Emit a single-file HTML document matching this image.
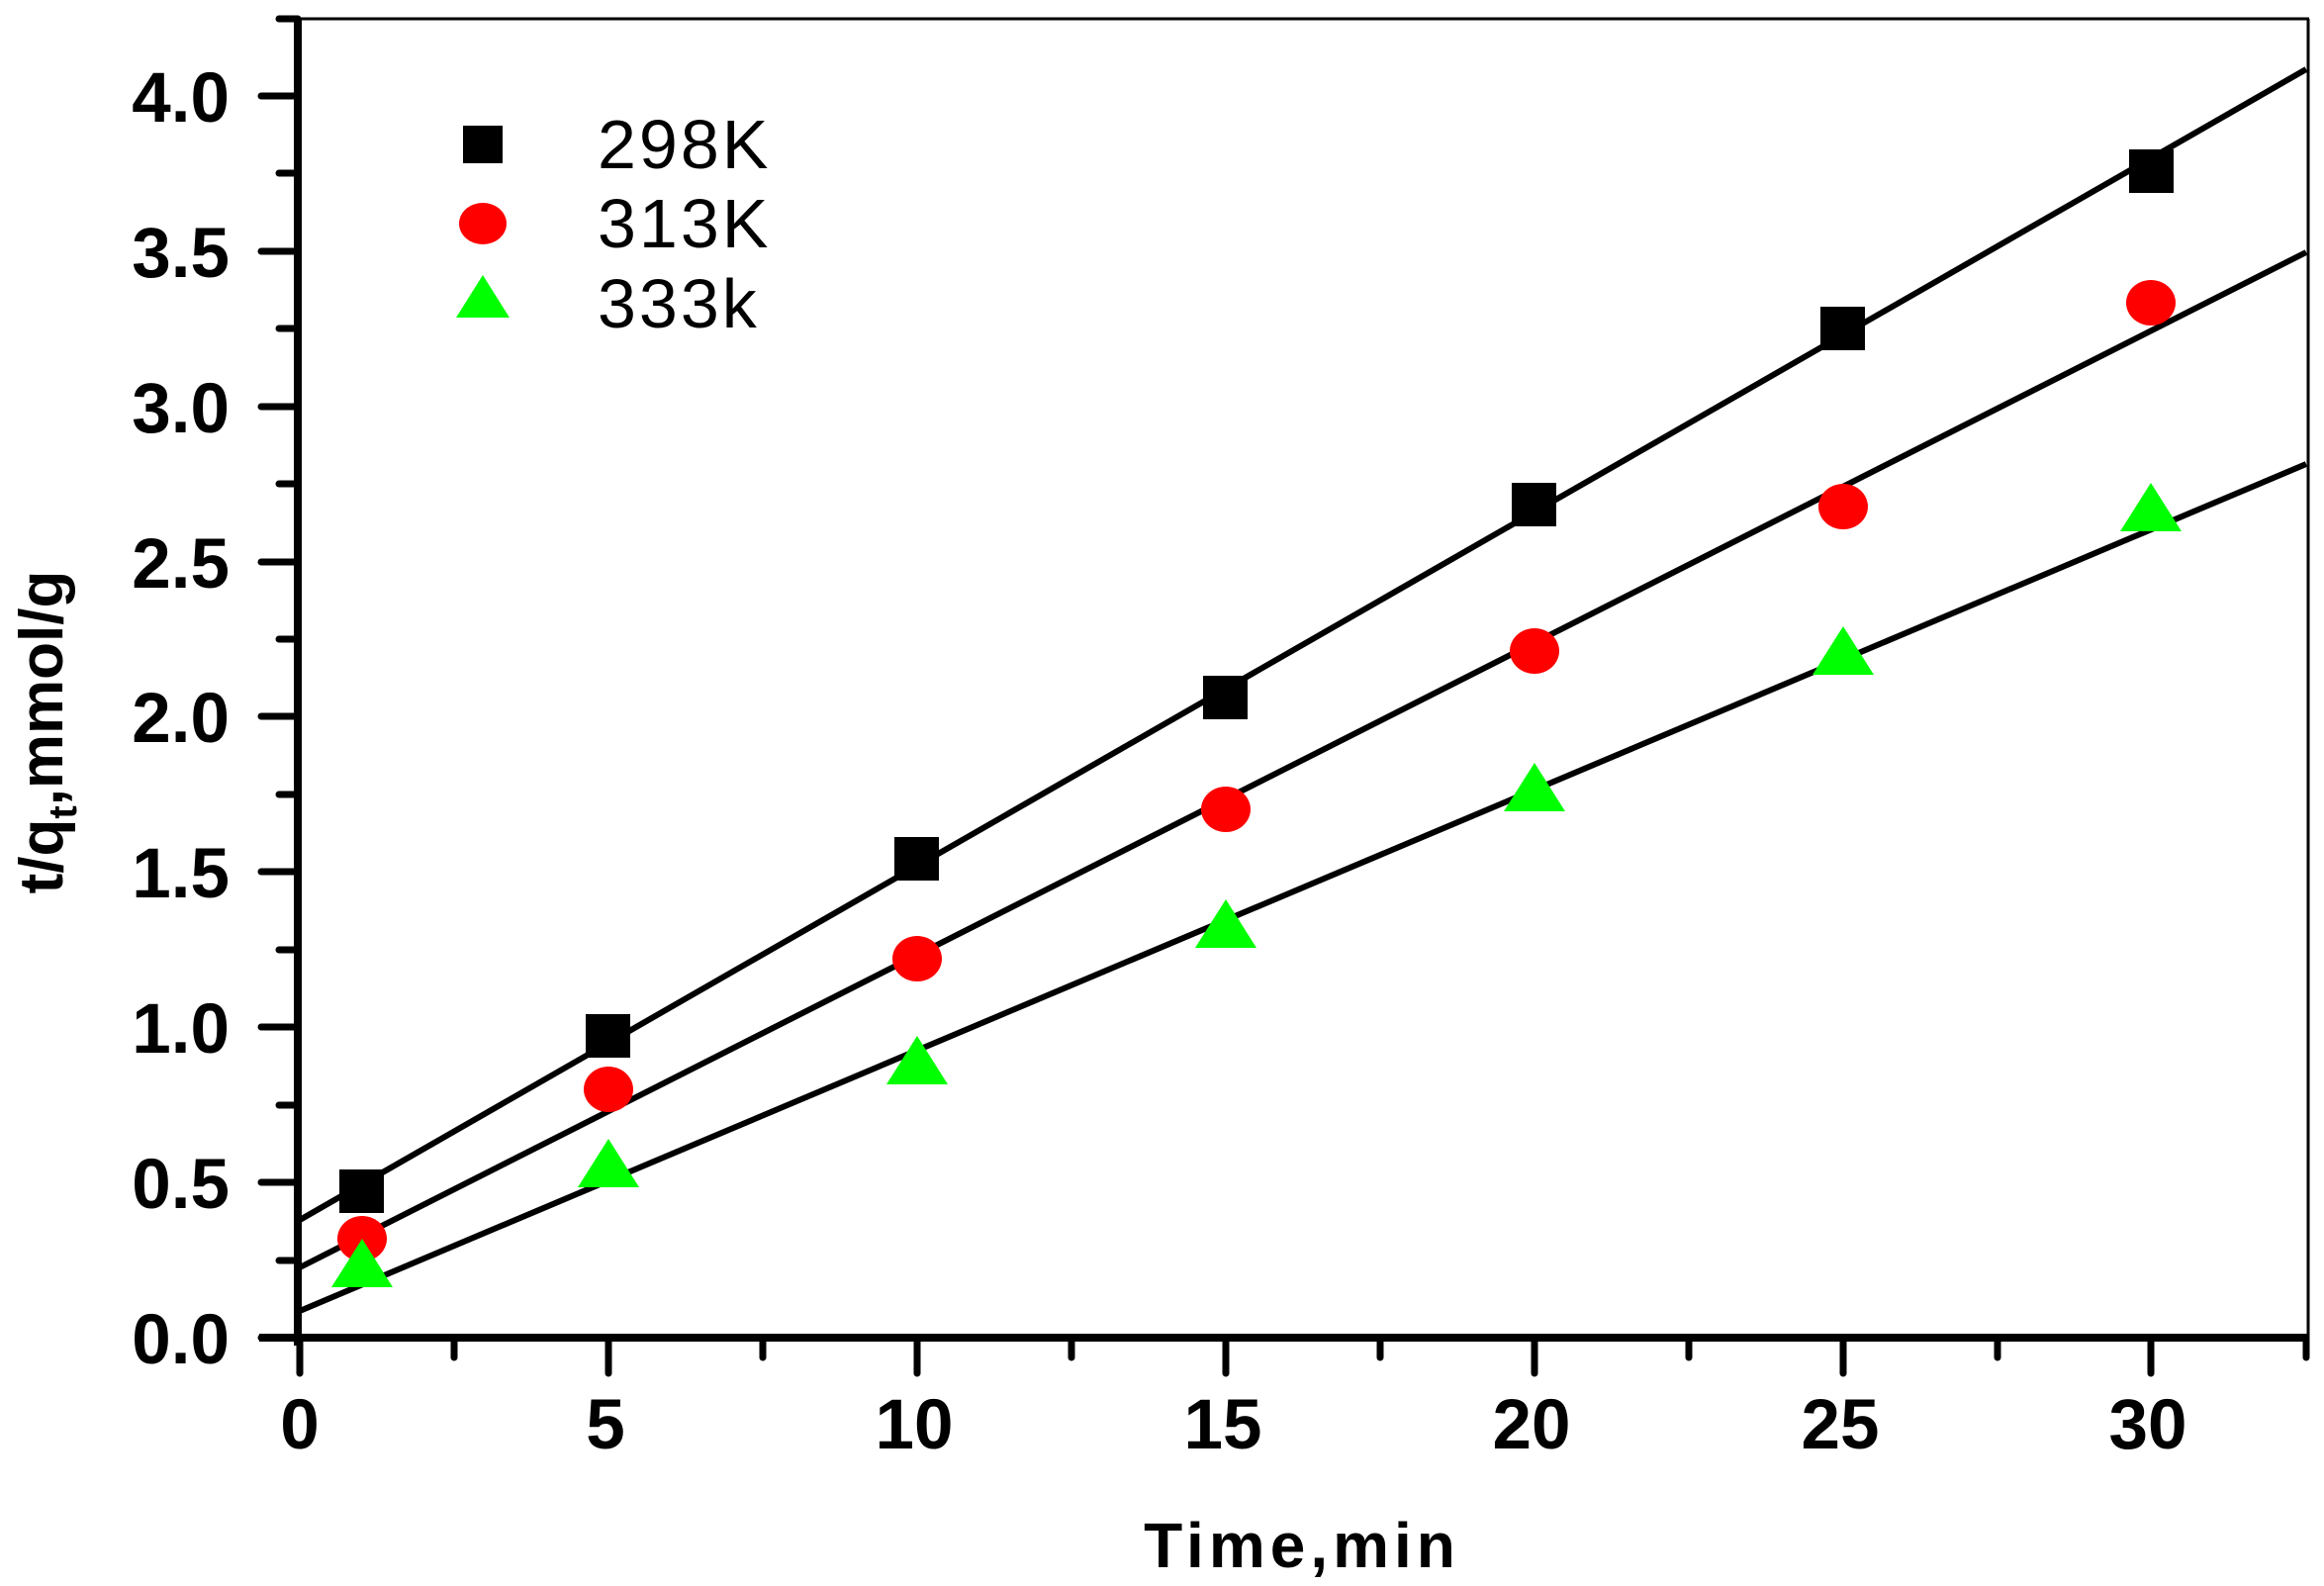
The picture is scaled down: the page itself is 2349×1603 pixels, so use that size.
<!DOCTYPE html>
<html><head><meta charset="utf-8"><style>
html,body{margin:0;padding:0;background:#fff;}
svg{display:block;}
text{font-family:"Liberation Sans",Arial,sans-serif;}
</style></head><body>
<svg width="2349" height="1603" viewBox="0 0 2349 1603" xmlns="http://www.w3.org/2000/svg">
<rect width="2349" height="1603" fill="#fff"/>
<line x1="301" y1="19" x2="2334" y2="19" stroke="#000" stroke-width="3"/>
<line x1="2333" y1="19" x2="2333" y2="1356" stroke="#000" stroke-width="3"/>
<line x1="301" y1="19" x2="301" y2="1360" stroke="#000" stroke-width="8"/>
<line x1="262" y1="1352" x2="2334" y2="1352" stroke="#000" stroke-width="8"/>
<g stroke="#000" stroke-width="7" stroke-linecap="round">
<line x1="264" y1="1352" x2="301" y2="1352"/>
<line x1="264" y1="1195" x2="301" y2="1195"/>
<line x1="264" y1="1038" x2="301" y2="1038"/>
<line x1="264" y1="881" x2="301" y2="881"/>
<line x1="264" y1="724" x2="301" y2="724"/>
<line x1="264" y1="568" x2="301" y2="568"/>
<line x1="264" y1="411" x2="301" y2="411"/>
<line x1="264" y1="254" x2="301" y2="254"/>
<line x1="264" y1="97" x2="301" y2="97"/>
<line x1="282" y1="1274" x2="301" y2="1274"/>
<line x1="282" y1="1117" x2="301" y2="1117"/>
<line x1="282" y1="960" x2="301" y2="960"/>
<line x1="282" y1="803" x2="301" y2="803"/>
<line x1="282" y1="646" x2="301" y2="646"/>
<line x1="282" y1="489" x2="301" y2="489"/>
<line x1="282" y1="332" x2="301" y2="332"/>
<line x1="282" y1="175" x2="301" y2="175"/>
<line x1="282" y1="19" x2="301" y2="19"/>
<line x1="303" y1="1352" x2="303" y2="1388"/>
<line x1="615" y1="1352" x2="615" y2="1388"/>
<line x1="927" y1="1352" x2="927" y2="1388"/>
<line x1="1239" y1="1352" x2="1239" y2="1388"/>
<line x1="1551" y1="1352" x2="1551" y2="1388"/>
<line x1="1863" y1="1352" x2="1863" y2="1388"/>
<line x1="2174" y1="1352" x2="2174" y2="1388"/>
<line x1="459" y1="1352" x2="459" y2="1372"/>
<line x1="771" y1="1352" x2="771" y2="1372"/>
<line x1="1083" y1="1352" x2="1083" y2="1372"/>
<line x1="1395" y1="1352" x2="1395" y2="1372"/>
<line x1="1707" y1="1352" x2="1707" y2="1372"/>
<line x1="2019" y1="1352" x2="2019" y2="1372"/>
<line x1="2331" y1="1352" x2="2331" y2="1372"/>
</g>
<g font-size="71" font-weight="bold" text-anchor="end">
<text x="232" y="1378">0.0</text>
<text x="232" y="1221">0.5</text>
<text x="232" y="1064">1.0</text>
<text x="232" y="907">1.5</text>
<text x="232" y="750">2.0</text>
<text x="232" y="594">2.5</text>
<text x="232" y="437">3.0</text>
<text x="232" y="280">3.5</text>
<text x="232" y="123">4.0</text>
</g>
<g font-size="71" font-weight="bold" text-anchor="middle">
<text x="303" y="1464">0</text>
<text x="612" y="1464">5</text>
<text x="924" y="1464">10</text>
<text x="1236" y="1464">15</text>
<text x="1548" y="1464">20</text>
<text x="1860" y="1464">25</text>
<text x="2171" y="1464">30</text>
</g>
<text x="1316" y="1584" font-size="64" font-weight="bold" text-anchor="middle" letter-spacing="5">Time,min</text>
<text transform="translate(63,740) rotate(-90)" font-size="62" font-weight="bold" text-anchor="middle">t/q<tspan font-size="40" dy="14">t</tspan><tspan dy="-14">,mmol/g</tspan></text>
<g stroke="#000" stroke-width="6">
<line x1="303" y1="1233" x2="2331" y2="70"/>
<line x1="303" y1="1281" x2="2331" y2="255"/>
<line x1="303" y1="1325" x2="2331" y2="469"/>
</g>
<g fill="#000">
<rect x="343" y="1182" width="45" height="44"/>
<rect x="592" y="1025" width="45" height="44"/>
<rect x="904" y="846" width="45" height="44"/>
<rect x="1216" y="683" width="45" height="44"/>
<rect x="1528" y="488" width="45" height="44"/>
<rect x="1840" y="310" width="45" height="44"/>
<rect x="2152" y="151" width="45" height="44"/>
</g>
<g fill="#f00">
<ellipse cx="366" cy="1252" rx="25" ry="23"/>
<ellipse cx="615" cy="1101" rx="25" ry="23"/>
<ellipse cx="927" cy="969" rx="25" ry="23"/>
<ellipse cx="1239" cy="818" rx="25" ry="23"/>
<ellipse cx="1551" cy="658" rx="25" ry="23"/>
<ellipse cx="1863" cy="512" rx="25" ry="23"/>
<ellipse cx="2174" cy="306" rx="25" ry="23"/>
</g>
<g fill="#00ff00">
<polygon points="366,1252 397,1301 335,1301"/>
<polygon points="615,1151 646,1200 584,1200"/>
<polygon points="927,1047 958,1096 896,1096"/>
<polygon points="1239,909 1270,958 1208,958"/>
<polygon points="1551,771 1582,820 1520,820"/>
<polygon points="1863,633 1894,682 1832,682"/>
<polygon points="2174,488 2205,537 2143,537"/>
</g>
<rect x="468" y="127" width="40" height="38" fill="#000"/>
<ellipse cx="488" cy="226" rx="24" ry="21" fill="#f00"/>
<polygon points="488,278 515,321 461,321" fill="#00ff00"/>
<g font-size="70" letter-spacing="3">
<text x="604" y="170">298K</text>
<text x="604" y="250">313K</text>
<text x="604" y="331">333k</text>
</g>
</svg>
</body></html>
